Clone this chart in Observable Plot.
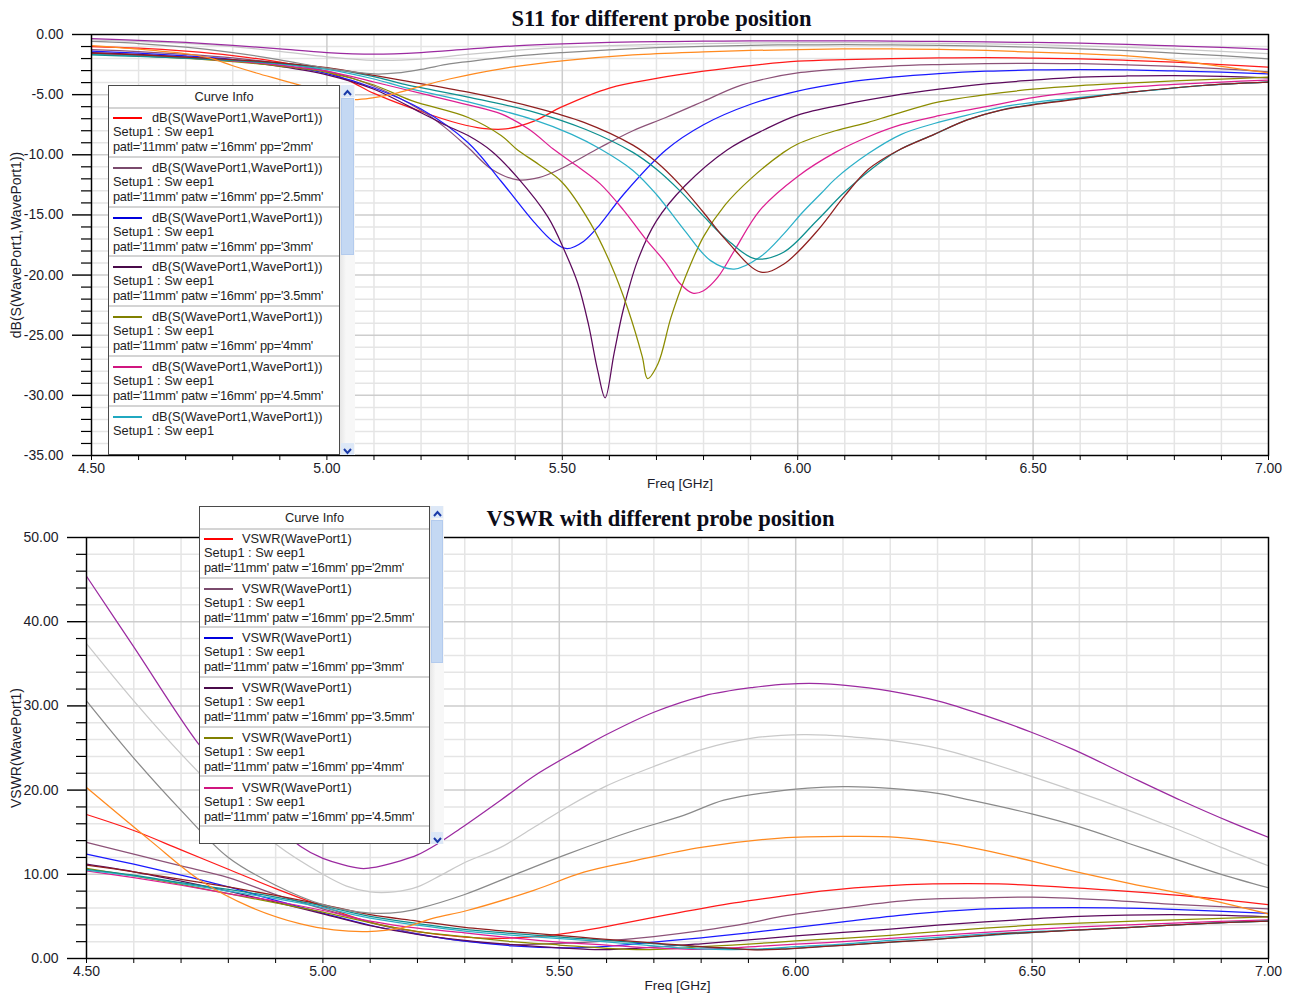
<!DOCTYPE html>
<html>
<head>
<meta charset="utf-8">
<script src="https://cdn.jsdelivr.net/npm/d3@7"></script>
<script src="https://cdn.jsdelivr.net/npm/@observablehq/plot@0.6"></script>
<style>
  html, body { margin: 0; padding: 0; background: #fff; overflow: hidden; }
  #page { position: relative; width: 1290px; height: 996px; overflow: hidden; font-family: "Liberation Sans", Arial, sans-serif; }
  .panel { position: absolute; left: 0; }
  .legend { position: absolute; box-sizing: border-box; background: #fff; border: 1px solid #4a4a4a; overflow: hidden; color: #1e1e1e; font-size: 12.8px; }
  .legend .head { position: absolute; left: 0; right: 0; top: 0; text-align: center; border-bottom: 2px solid #d4d4d4; box-sizing: border-box; }
  .legend .entry { position: absolute; left: 0; right: 0; border-bottom: 2px solid #d4d4d4; box-sizing: border-box; }
  .legend .swatch { position: absolute; height: 2px; }
  .legend .txt { position: absolute; white-space: pre; line-height: 14px; height: 14px; }
  .legend .txt.params { letter-spacing: -0.25px; }
  .scroll { position: absolute; box-sizing: border-box; background: linear-gradient(to right, #e6e6e6, #f7f7f7 40%, #f7f7f7); }
  .scroll .thumb { position: absolute; left: 1px; right: 1px; background: #c4d8f3; border: 1px solid #b3cbee; box-sizing: border-box; }
  .scroll .btn { position: absolute; left: 1px; right: 1px; height: 12px; background: #dde8f7; }
</style>
</head>
<body>
<div id="page"></div>
<script>
// ---- frequency axis (GHz) ----
const freqRange = [4.5, 7.0];

// ---- S11 (dB) per probe position: [freq GHz, dB] ----
const s11Red = [[4.5,-1.0],[4.6,-1.13],[4.7,-1.38],[4.8,-1.75],[4.9,-2.3],[5.0,-3.1],[5.05,-3.9],[5.1,-4.9],[5.2,-6.4],[5.28,-7.4],[5.33,-7.8],[5.38,-7.85],[5.44,-7.2],[5.5,-6.0],[5.6,-4.45],[5.7,-3.65],[5.8,-3.05],[5.9,-2.58],[6.0,-2.22],[6.1,-2.08],[6.2,-2.0],[6.3,-1.95],[6.4,-1.93],[6.5,-1.96],[6.6,-2.03],[6.7,-2.15],[6.8,-2.3],[6.9,-2.5],[7.0,-2.72]];
const s11Mauve = [[4.5,-1.25],[4.6,-1.42],[4.7,-1.65],[4.8,-1.95],[4.9,-2.4],[5.0,-3.05],[5.1,-4.3],[5.2,-6.3],[5.25,-7.7],[5.3,-9.4],[5.35,-11.2],[5.405,-12.08],[5.45,-11.9],[5.5,-11.1],[5.58,-9.4],[5.65,-8.0],[5.72,-6.9],[5.8,-5.55],[5.87,-4.35],[5.93,-3.7],[6.0,-3.2],[6.1,-2.85],[6.2,-2.62],[6.3,-2.5],[6.4,-2.42],[6.5,-2.4],[6.6,-2.43],[6.7,-2.52],[6.8,-2.65],[6.9,-2.85],[7.0,-3.1]];
const s11Blue = [[4.5,-1.38],[4.6,-1.55],[4.7,-1.78],[4.8,-2.08],[4.9,-2.55],[5.0,-3.25],[5.1,-4.45],[5.2,-6.2],[5.3,-9.0],[5.37,-12.2],[5.44,-15.6],[5.48,-17.2],[5.51,-17.8],[5.545,-17.2],[5.58,-15.8],[5.63,-13.3],[5.72,-9.6],[5.8,-7.5],[5.9,-5.8],[6.0,-4.7],[6.1,-4.0],[6.2,-3.55],[6.3,-3.25],[6.4,-3.05],[6.5,-2.95],[6.6,-2.92],[6.7,-2.95],[6.8,-3.03],[6.9,-3.13],[7.0,-3.27]];
const s11DarkPurple = [[4.5,-1.5],[4.6,-1.65],[4.7,-1.88],[4.8,-2.18],[4.9,-2.65],[5.0,-3.35],[5.1,-4.55],[5.2,-6.5],[5.25,-7.5],[5.3,-8.4],[5.35,-9.7],[5.405,-11.9],[5.47,-15.2],[5.505,-18.0],[5.533,-20.7],[5.555,-24.0],[5.575,-27.9],[5.591,-30.2],[5.61,-26.5],[5.63,-22.8],[5.66,-18.8],[5.7,-15.5],[5.76,-12.6],[5.85,-9.6],[5.93,-7.9],[6.0,-6.7],[6.1,-5.8],[6.2,-5.1],[6.3,-4.55],[6.4,-4.1],[6.5,-3.8],[6.6,-3.55],[6.7,-3.45],[6.8,-3.42],[6.9,-3.48],[7.0,-3.6]];
const s11Olive = [[4.5,-1.62],[4.6,-1.78],[4.7,-1.98],[4.8,-2.25],[4.9,-2.62],[5.0,-3.15],[5.1,-4.2],[5.18,-5.5],[5.3,-6.9],[5.37,-8.4],[5.405,-9.6],[5.45,-10.8],[5.5,-12.3],[5.56,-15.7],[5.603,-19.1],[5.64,-22.9],[5.67,-26.8],[5.681,-28.6],[5.703,-27.4],[5.731,-23.5],[5.76,-20.3],[5.8,-16.8],[5.845,-14.2],[5.9,-12.0],[5.97,-9.8],[6.0,-9.1],[6.08,-8.0],[6.15,-7.3],[6.2,-6.7],[6.3,-5.6],[6.4,-5.0],[6.5,-4.55],[6.6,-4.25],[6.7,-4.05],[6.8,-3.85],[6.9,-3.7],[7.0,-3.55]];
const s11Magenta = [[4.5,-1.6],[4.6,-1.75],[4.7,-1.95],[4.8,-2.2],[4.9,-2.55],[5.0,-3.05],[5.1,-3.95],[5.2,-4.9],[5.3,-5.85],[5.37,-6.6],[5.43,-7.9],[5.48,-9.5],[5.53,-10.9],[5.58,-12.4],[5.63,-14.6],[5.675,-16.9],[5.72,-19.0],[5.75,-20.7],[5.777,-21.5],[5.8,-21.3],[5.83,-20.2],[5.865,-18.0],[5.92,-14.6],[6.0,-11.8],[6.08,-9.8],[6.15,-8.5],[6.22,-7.5],[6.3,-6.75],[6.4,-6.0],[6.5,-5.25],[6.6,-4.75],[6.7,-4.4],[6.8,-4.15],[6.9,-3.95],[7.0,-3.8]];
const s11Cyan = [[4.5,-1.65],[4.6,-1.78],[4.7,-1.95],[4.8,-2.15],[4.9,-2.45],[5.0,-2.9],[5.1,-3.7],[5.16,-4.35],[5.3,-5.6],[5.44,-7.1],[5.52,-8.3],[5.58,-9.5],[5.65,-11.3],[5.7,-13.3],[5.76,-16.3],[5.815,-18.8],[5.865,-19.5],[5.92,-18.5],[5.97,-16.6],[6.01,-14.8],[6.05,-13.2],[6.08,-12.0],[6.15,-9.9],[6.22,-8.3],[6.29,-7.4],[6.36,-6.7],[6.43,-6.05],[6.5,-5.65],[6.57,-5.35],[6.71,-4.8],[6.86,-4.25],[7.0,-3.96]];
const s11Teal = [[4.5,-1.7],[4.6,-1.82],[4.7,-1.97],[4.8,-2.15],[4.9,-2.4],[5.0,-2.8],[5.1,-3.5],[5.16,-4.1],[5.3,-5.2],[5.44,-6.45],[5.55,-7.9],[5.65,-9.8],[5.7,-11.2],[5.75,-13.0],[5.8,-15.1],[5.857,-17.3],[5.91,-18.65],[5.97,-18.1],[6.04,-15.5],[6.1,-13.1],[6.18,-10.5],[6.22,-9.5],[6.29,-8.3],[6.36,-7.1],[6.43,-6.3],[6.5,-5.8],[6.57,-5.45],[6.71,-4.8],[6.86,-4.24],[7.0,-3.96]];
const s11Maroon = [[4.5,-1.55],[4.6,-1.7],[4.7,-1.88],[4.8,-2.08],[4.9,-2.35],[5.0,-2.75],[5.1,-3.4],[5.16,-3.82],[5.3,-4.8],[5.44,-6.05],[5.546,-7.3],[5.65,-9.2],[5.7,-10.6],[5.75,-12.5],[5.8,-14.8],[5.85,-17.2],[5.922,-19.76],[5.97,-19.1],[6.04,-16.4],[6.1,-13.4],[6.15,-11.2],[6.21,-9.7],[6.29,-8.3],[6.36,-7.1],[6.43,-6.3],[6.5,-5.85],[6.57,-5.5],[6.71,-4.8],[6.86,-4.24],[7.0,-3.96]];
const s11Orange = [[4.5,-0.92],[4.6,-1.22],[4.7,-1.6],[4.75,-1.95],[4.8,-2.6],[4.85,-3.2],[4.9,-3.75],[4.95,-4.3],[5.0,-4.85],[5.05,-5.4],[5.1,-5.25],[5.15,-4.85],[5.2,-4.3],[5.26,-3.7],[5.37,-2.85],[5.51,-2.16],[5.65,-1.7],[5.8,-1.45],[5.9,-1.33],[6.0,-1.25],[6.1,-1.2],[6.2,-1.2],[6.3,-1.24],[6.4,-1.32],[6.5,-1.47],[6.6,-1.6],[6.7,-1.78],[6.8,-2.15],[6.9,-2.65],[7.0,-3.2]];
const s11Gray = [[4.5,-0.58],[4.6,-0.75],[4.7,-1.05],[4.8,-1.5],[4.9,-2.1],[5.0,-2.8],[5.1,-3.28],[5.15,-3.2],[5.2,-2.9],[5.26,-2.45],[5.3,-2.25],[5.4,-1.8],[5.5,-1.5],[5.6,-1.27],[5.7,-1.1],[5.8,-0.98],[5.9,-0.9],[6.0,-0.86],[6.1,-0.85],[6.2,-0.86],[6.3,-0.9],[6.4,-0.97],[6.5,-1.06],[6.6,-1.2],[6.7,-1.35],[6.8,-1.55],[6.9,-1.75],[7.0,-2.02]];
const s11LightGray = [[4.5,-0.45],[4.6,-0.58],[4.7,-0.74],[4.8,-1.0],[4.9,-1.4],[5.0,-1.85],[5.1,-2.15],[5.2,-2.05],[5.3,-1.65],[5.4,-1.33],[5.5,-1.08],[5.6,-0.92],[5.7,-0.82],[5.8,-0.75],[5.9,-0.7],[6.0,-0.68],[6.1,-0.67],[6.2,-0.69],[6.3,-0.73],[6.4,-0.78],[6.5,-0.85],[6.6,-0.95],[6.7,-1.07],[6.8,-1.22],[6.9,-1.4],[7.0,-1.6]];
const s11Purple = [[4.5,-0.35],[4.6,-0.48],[4.7,-0.66],[4.8,-0.9],[4.9,-1.2],[5.0,-1.5],[5.1,-1.63],[5.2,-1.5],[5.3,-1.22],[5.4,-0.95],[5.5,-0.78],[5.6,-0.66],[5.7,-0.6],[5.8,-0.56],[5.9,-0.54],[6.0,-0.53],[6.1,-0.53],[6.2,-0.55],[6.3,-0.58],[6.4,-0.62],[6.5,-0.66],[6.6,-0.72],[6.7,-0.82],[6.8,-0.95],[6.9,-1.08],[7.0,-1.23]];

// ---- VSWR per probe position: [freq GHz, VSWR] ----
const vswrRed = [[4.5,17.1],[4.6,15.2],[4.7,12.9],[4.8,10.6],[4.9,8.3],[5.0,6.2],[5.1,4.3],[5.2,3.2],[5.3,2.55],[5.38,2.4],[5.48,2.75],[5.59,3.7],[5.73,5.2],[5.87,6.6],[5.97,7.4],[6.07,8.1],[6.18,8.6],[6.29,8.85],[6.43,8.85],[6.57,8.45],[6.71,7.95],[6.85,7.3],[7.0,6.4]];
const vswrMauve = [[4.5,13.8],[4.6,12.4],[4.7,11.0],[4.8,9.6],[4.9,7.6],[5.0,5.9],[5.1,4.3],[5.2,2.95],[5.3,2.05],[5.4,1.66],[5.5,1.8],[5.6,2.1],[5.7,2.6],[5.8,3.3],[5.9,4.2],[5.97,5.0],[6.1,6.0],[6.25,6.95],[6.39,7.2],[6.5,7.3],[6.64,7.0],[6.78,6.5],[7.0,5.9]];
const vswrBlue = [[4.5,12.4],[4.6,11.2],[4.7,9.9],[4.8,8.5],[4.9,6.9],[5.0,5.4],[5.1,3.95],[5.2,2.9],[5.3,2.05],[5.4,1.5],[5.51,1.27],[5.6,1.45],[5.7,1.95],[5.8,2.45],[5.9,3.05],[5.97,3.5],[6.1,4.35],[6.25,5.3],[6.39,5.85],[6.5,6.0],[6.67,6.0],[6.81,5.8],[7.0,5.35]];
const vswrDarkPurple = [[4.5,11.2],[4.6,10.3],[4.7,9.2],[4.8,8.0],[4.9,6.7],[5.0,5.3],[5.1,3.9],[5.2,2.85],[5.3,2.15],[5.4,1.65],[5.5,1.27],[5.59,1.05],[5.7,1.35],[5.8,1.75],[5.9,2.2],[6.0,2.7],[6.1,3.1],[6.2,3.5],[6.3,3.95],[6.4,4.35],[6.5,4.7],[6.6,5.0],[6.8,5.2],[7.0,4.95]];
const vswrOlive = [[4.5,10.7],[4.6,9.8],[4.7,8.8],[4.8,7.7],[4.9,6.6],[5.0,5.5],[5.1,4.25],[5.2,3.2],[5.3,2.6],[5.4,2.0],[5.5,1.6],[5.6,1.2],[5.68,1.04],[5.75,1.2],[5.8,1.4],[5.9,1.7],[6.0,2.1],[6.1,2.4],[6.2,2.75],[6.3,3.2],[6.4,3.6],[6.5,3.95],[6.6,4.2],[6.8,4.6],[7.0,4.95]];
const vswrMagenta = [[4.5,10.4],[4.6,9.6],[4.7,8.7],[4.8,7.7],[4.9,6.8],[5.0,5.7],[5.1,4.45],[5.2,3.6],[5.3,3.05],[5.4,2.45],[5.5,1.95],[5.6,1.6],[5.7,1.25],[5.78,1.08],[5.85,1.2],[5.92,1.45],[6.0,1.7],[6.1,2.0],[6.2,2.4],[6.3,2.75],[6.4,3.1],[6.5,3.45],[6.6,3.75],[6.8,4.2],[7.0,4.6]];
const vswrCyan = [[4.5,10.5],[4.6,9.8],[4.7,8.9],[4.8,8.0],[4.9,7.1],[5.0,6.05],[5.1,4.8],[5.2,3.95],[5.3,3.25],[5.44,2.6],[5.58,2.05],[5.7,1.5],[5.8,1.13],[5.865,1.06],[5.95,1.2],[6.0,1.4],[6.1,1.72],[6.2,2.15],[6.3,2.5],[6.43,3.0],[6.57,3.35],[6.71,3.7],[6.86,4.15],[7.0,4.45]];
const vswrTeal = [[4.5,10.6],[4.6,9.9],[4.7,9.0],[4.8,8.2],[4.9,7.3],[5.0,6.25],[5.1,5.0],[5.2,4.15],[5.3,3.45],[5.44,2.8],[5.55,2.35],[5.65,1.95],[5.75,1.55],[5.85,1.2],[5.91,1.07],[5.97,1.13],[6.05,1.4],[6.18,1.85],[6.3,2.3],[6.43,2.85],[6.57,3.3],[6.71,3.7],[6.86,4.15],[7.0,4.45]];
const vswrMaroon = [[4.5,11.1],[4.6,10.3],[4.7,9.4],[4.8,8.5],[4.9,7.5],[5.0,6.4],[5.1,5.2],[5.2,4.45],[5.3,3.7],[5.44,3.0],[5.55,2.5],[5.65,2.05],[5.72,1.75],[5.8,1.42],[5.85,1.25],[5.92,1.02],[5.97,1.1],[6.04,1.35],[6.11,1.6],[6.2,1.95],[6.29,2.25],[6.43,2.9],[6.57,3.3],[6.71,3.7],[6.86,4.15],[7.0,4.45]];
const vswrOrange = [[4.5,20.3],[4.635,14.0],[4.741,9.26],[4.847,6.1],[4.953,4.1],[5.023,3.4],[5.094,3.2],[5.164,3.6],[5.234,4.8],[5.305,5.7],[5.446,8.1],[5.552,10.25],[5.658,11.6],[5.8,13.2],[5.968,14.3],[6.109,14.5],[6.215,14.4],[6.32,13.7],[6.46,12.1],[6.566,10.65],[6.708,8.9],[6.85,7.3],[7.0,5.3]];
const vswrGray = [[4.5,30.6],[4.6,23.8],[4.7,17.6],[4.8,12.0],[4.9,8.7],[5.0,6.4],[5.1,5.4],[5.164,5.5],[5.2,5.9],[5.3,7.6],[5.41,10.06],[5.517,12.4],[5.658,15.2],[5.763,17.0],[5.848,18.8],[5.95,19.8],[6.1,20.4],[6.2,20.2],[6.3,19.6],[6.37,18.8],[6.497,17.2],[6.602,15.6],[6.708,13.6],[6.814,11.6],[6.9,10.0],[7.0,8.4]];
const vswrLightGray = [[4.5,37.4],[4.6,30.6],[4.7,24.3],[4.8,18.6],[4.9,13.6],[5.0,10.0],[5.05,8.6],[5.1,7.9],[5.15,7.9],[5.2,8.5],[5.25,9.9],[5.3,11.4],[5.376,13.2],[5.45,15.7],[5.517,18.0],[5.6,20.5],[5.7,22.8],[5.806,24.9],[5.911,26.2],[6.017,26.6],[6.074,26.5],[6.123,26.3],[6.2,25.9],[6.306,24.9],[6.4,23.4],[6.5,21.6],[6.645,18.8],[6.814,15.2],[6.9,13.2],[7.0,11.0]];
const vswrPurple = [[4.5,45.4],[4.6,37.0],[4.734,25.7],[4.8,21.4],[4.9,16.0],[4.953,13.3],[5.0,11.9],[5.08,10.7],[5.1,10.75],[5.164,11.6],[5.2,12.3],[5.242,13.6],[5.29,15.4],[5.376,18.8],[5.45,21.8],[5.545,24.9],[5.6,26.6],[5.7,29.25],[5.806,31.2],[5.911,32.2],[5.982,32.6],[6.074,32.6],[6.158,32.1],[6.2,31.75],[6.3,30.6],[6.398,28.9],[6.497,26.9],[6.588,24.8],[6.7,21.8],[6.814,18.8],[6.92,16.2],[7.0,14.4]];

// ---- series colours (same order in both charts) ----
const seriesColors = ["#ff1a1a", "#8c5278", "#1a1aff", "#5c0a5c", "#8c8c00", "#dd1f92", "#2cb0c8", "#0d8f8f", "#8f1f1f", "#ff8a1f", "#8a8a8a", "#c9c9c9", "#9b2aa0"];
const s11Curves = [s11Red, s11Mauve, s11Blue, s11DarkPurple, s11Olive, s11Magenta, s11Cyan, s11Teal, s11Maroon, s11Orange, s11Gray, s11LightGray, s11Purple];
const vswrCurves = [vswrRed, vswrMauve, vswrBlue, vswrDarkPurple, vswrOlive, vswrMagenta, vswrCyan, vswrTeal, vswrMaroon, vswrOrange, vswrGray, vswrLightGray, vswrPurple];

// ---- legend content ----
const probePositions = ["2mm", "2.5mm", "3mm", "3.5mm", "4mm", "4.5mm"];
const legendSwatches = ["#ff0000", "#7a4a6c", "#0000dd", "#4a0a4a", "#808000", "#d0157f", "#20a8c0"];

// ---- helpers ----
const fmt2 = d => d.toFixed(2);
const seq = (a, b, step) => d3.range(Math.round((b - a) / step) + 1).map(i => +(a + i * step).toFixed(4));
const isMultiple = (v, m) => Math.abs(v / m - Math.round(v / m)) < 1e-6;

function chart({curves, yDomain, yStep, yMajorStep, height, marginTop, marginBottom, marginLeft, title, titleDx, titleDy, yLabel, yLabelDx, xLabelDy}) {
  const xAll = seq(freqRange[0], freqRange[1], 0.1);
  const xMajor = xAll.filter(f => isMultiple(f, 0.5));
  const xMinor = xAll.filter(f => !isMultiple(f, 0.5));
  const yAll = seq(yDomain[0], yDomain[1], yStep);
  const yMajor = yAll.filter(v => isMultiple(v, yMajorStep));
  const yMinor = yAll.filter(v => !isMultiple(v, yMajorStep));
  return Plot.plot({
    width: 1290,
    height,
    marginTop,
    marginBottom,
    marginLeft,
    marginRight: 22,
    x: {domain: freqRange, label: null},
    y: {domain: yDomain, label: null},
    style: {fontFamily: "'Liberation Sans', Arial, sans-serif", fontSize: "14px", color: "#1c1c2a", background: "transparent", overflow: "visible"},
    marks: [
      Plot.ruleY(yMinor, {stroke: "#e5e5e5", strokeWidth: 1.5}),
      Plot.ruleX(xMinor, {stroke: "#e5e5e5", strokeWidth: 1.5}),
      Plot.ruleY(yMajor, {stroke: "#cdcdcd", strokeWidth: 1.5}),
      Plot.ruleX(xMajor, {stroke: "#cdcdcd", strokeWidth: 1.5}),
      ...curves.map((pts, i) => Plot.line(pts, {x: d => d[0], y: d => d[1], stroke: seriesColors[i], strokeWidth: 1.25, curve: "catmull-rom", clip: true})),
      Plot.frame({stroke: "#000", strokeWidth: 1.4}),
      Plot.axisY(yMajor, {anchor: "left", tickSize: 19, tickPadding: 9, tickFormat: fmt2, stroke: "#000", strokeWidth: 1.4}),
      Plot.axisY(yMinor, {anchor: "left", tickSize: 10, tickFormat: () => "", stroke: "#000", strokeWidth: 1.2}),
      Plot.axisX(xAll, {anchor: "bottom", tickSize: 5, tickPadding: 3, tickFormat: d => isMultiple(d, 0.5) ? fmt2(d) : "", stroke: "#000"}),
      Plot.text(["Freq [GHz]"], {text: d => d, frameAnchor: "bottom", dy: xLabelDy, fontSize: 13.5}),
      Plot.text([yLabel], {text: d => d, frameAnchor: "left", textAnchor: "middle", rotate: -90, dx: yLabelDx, fontSize: 14}),
      Plot.text([title], {text: d => d, frameAnchor: "top", dx: titleDx, dy: titleDy, fontSize: 22.5, fontWeight: "bold", fontFamily: "'Liberation Serif', 'Times New Roman', serif", fill: "#0c0c18"})
    ]
  });
}

function legend(page, {left, top, width, height, headerH, entryH, entries, swatchX, swatchW, textX, lineX, scrollW, thumbTop, thumbH}) {
  const box = document.createElement("div");
  box.className = "legend";
  Object.assign(box.style, {left: left + "px", top: top + "px", width: width + "px", height: height + "px"});
  const head = document.createElement("div");
  head.className = "head";
  Object.assign(head.style, {height: headerH + "px", lineHeight: (headerH - 2) + "px"});
  head.textContent = "Curve Info";
  box.appendChild(head);
  entries.forEach((e, i) => {
    const row = document.createElement("div");
    row.className = "entry";
    Object.assign(row.style, {top: (headerH - 1 + i * entryH) + "px", height: entryH + "px"});
    const sw = document.createElement("div");
    sw.className = "swatch";
    Object.assign(sw.style, {left: swatchX + "px", width: swatchW + "px", top: "9px", background: e.color});
    row.appendChild(sw);
    e.lines.forEach((t, k) => {
      const tx = document.createElement("div");
      tx.className = k === 2 ? "txt params" : "txt";
      Object.assign(tx.style, {left: (k === 0 ? textX : lineX) + "px", top: (3 + [0, 14, 29][k]) + "px"});
      tx.textContent = t;
      row.appendChild(tx);
    });
    box.appendChild(row);
  });
  page.appendChild(box);

  // scroll bar beside the list
  const sb = document.createElement("div");
  sb.className = "scroll";
  Object.assign(sb.style, {left: (left + width) + "px", top: top + "px", width: scrollW + "px", height: height + "px"});
  const thumb = document.createElement("div");
  thumb.className = "thumb";
  Object.assign(thumb.style, {top: thumbTop + "px", height: thumbH + "px"});
  sb.appendChild(thumb);
  const arrow = (y, up) => {
    const b = document.createElement("div");
    b.className = "btn";
    b.style.top = y + "px";
    b.innerHTML = `<svg width="${scrollW - 2}" height="12"><polyline points="${up ? "3,8 6.5,4 10,8" : "3,4 6.5,8 10,4"}" fill="none" stroke="#1a3aa8" stroke-width="2"/></svg>`;
    sb.appendChild(b);
  };
  arrow(0, true);
  arrow(height - 12, false);
  page.appendChild(sb);
}

const page = document.getElementById("page");

// S11 chart
const s11Plot = chart({
  curves: s11Curves, yDomain: [-35, 0], yStep: 1, yMajorStep: 5,
  height: 500, marginTop: 34, marginBottom: 45, marginLeft: 91,
  title: "S11 for different probe position", titleDx: -18.5, titleDy: -24,
  yLabel: "dB(S(WavePort1,WavePort1))", yLabelDx: -75, xLabelDy: 32
});
s11Plot.classList.add("panel");
s11Plot.style.top = "0px";
page.appendChild(s11Plot);

// VSWR chart
const vswrPlot = chart({
  curves: vswrCurves, yDomain: [0, 50], yStep: 2, yMajorStep: 10,
  height: 496, marginTop: 37, marginBottom: 38, marginLeft: 86,
  title: "VSWR with different probe position", titleDx: -17, titleDy: -27,
  yLabel: "VSWR(WavePort1)", yLabelDx: -70, xLabelDy: 31
});
vswrPlot.classList.add("panel");
vswrPlot.style.top = "500px";
page.appendChild(vswrPlot);

// curve-info lists
const patl = pp => `patl='11mm' patw ='16mm' pp='${pp}'`;
const s11Entries = probePositions.map((pp, i) => ({color: legendSwatches[i], lines: ["dB(S(WavePort1,WavePort1))", "Setup1 : Sw eep1", patl(pp)]}));
s11Entries.push({color: legendSwatches[6], lines: ["dB(S(WavePort1,WavePort1))", "Setup1 : Sw eep1"]});
legend(page, {left: 108, top: 85, width: 232, height: 370, headerH: 23, entryH: 49.8, entries: s11Entries,
  swatchX: 4, swatchW: 29, textX: 43, lineX: 4, scrollW: 15, thumbTop: 13, thumbH: 157});

const vswrEntries = probePositions.map((pp, i) => ({color: legendSwatches[i], lines: ["VSWR(WavePort1)", "Setup1 : Sw eep1", patl(pp)]}));
legend(page, {left: 199, top: 506, width: 231, height: 338, headerH: 23, entryH: 49.7, entries: vswrEntries,
  swatchX: 4, swatchW: 29, textX: 42, lineX: 4, scrollW: 14, thumbTop: 14, thumbH: 143});
</script>
</body>
</html>
